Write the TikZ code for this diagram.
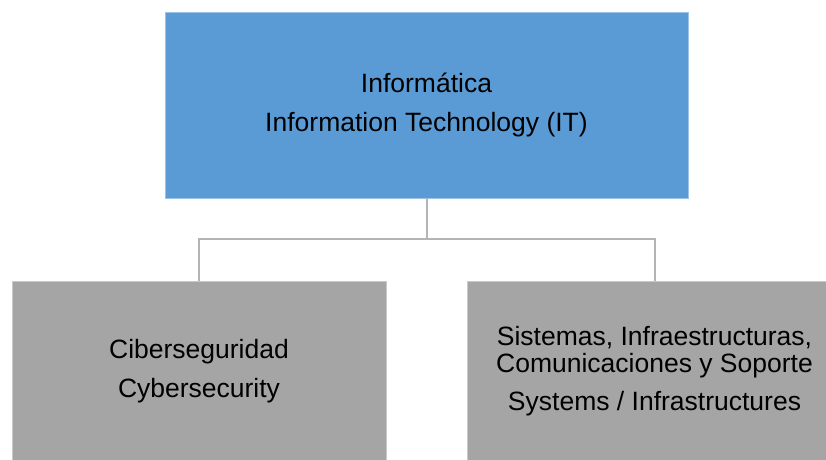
\documentclass[tikz,border=0pt]{standalone}
\usepackage{fontspec}
\setmainfont{Liberation Sans}
\usetikzlibrary{positioning}

\definecolor{itblue}{HTML}{5B9BD5}
\definecolor{unitgray}{HTML}{A5A5A5}
\definecolor{linkgray}{HTML}{B4B4B4}

\begin{document}
\begin{tikzpicture}[x=1pt,y=-1pt,
    box/.style={inner sep=0pt, align=center, text=black,
        font=\fontsize{26.5}{39}\selectfont},
    headbox/.style={box, fill=itblue, draw=itblue!60!white, line width=0.8pt,
        minimum width=523pt, minimum height=186pt},
    unitbox/.style={box, fill=unitgray, draw=unitgray!60!white, line width=0.8pt,
        minimum width=374pt, minimum height=180pt},
    link/.style={draw=linkgray, line width=2pt}]
    \useasboundingbox (0,0) rectangle (826,459);
    \clip (0,0) rectangle (826,459);

    \node[headbox] (it) at (426.5,105) {Informática\\Information Technology (IT)};

    \node[unitbox] (ciber) at (199,371) {Ciberseguridad\\Cybersecurity};
    \node[unitbox, font=\fontsize{26.5}{27}\selectfont] (sist) at (654.5,371)
        {Sistemas, Infraestructuras,\\Comunicaciones y Soporte\\[11pt]Systems / Infrastructures};

    % connectors
    \draw[link] (it.south) -- ++(0,41) coordinate (fork) -| (ciber.north);
    \draw[link] (fork) -| (sist.north);
\end{tikzpicture}
\end{document}
